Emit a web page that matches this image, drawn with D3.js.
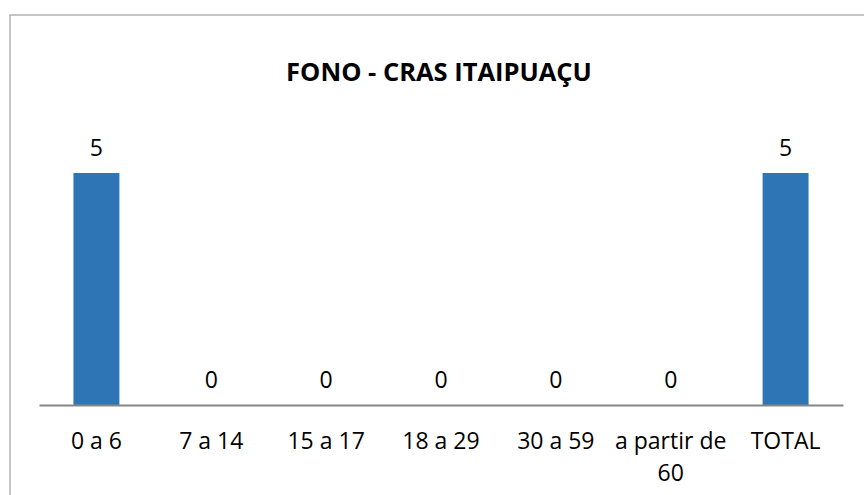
<!DOCTYPE html>
<html><head><meta charset="utf-8">
<script src="https://cdn.jsdelivr.net/npm/d3@7"></script>
<style>body{margin:0;background:#fff}svg{display:block}</style>
</head><body><svg id="c" width="864" height="495"></svg>
<script>
const categories = ["0 a 6","7 a 14","15 a 17","18 a 29","30 a 59","a partir de 60","TOTAL"];
const values = [5,0,0,0,0,0,5];
const title = "FONO - CRAS ITAIPUAÇU";

const svg = d3.select("#c");
const font = "'Open Sans', sans-serif";
svg.append("rect").attr("x",10).attr("y",15).attr("width",900).attr("height",500)
  .attr("fill","#fff").attr("stroke","#b3b3b3").attr("stroke-width",1.5);

svg.append("text").attr("x",439).attr("y",81).attr("text-anchor","middle")
  .attr("font-family",font).attr("font-weight","bold").attr("font-size",25.5)
  .attr("fill","#000").text(title);

const x = d3.scaleBand().domain(categories).range([39,843]).paddingInner(0.6).paddingOuter(0.3);
const y = d3.scaleLinear().domain([0,5]).range([405,173]);

svg.selectAll(".bar").data(values).join("rect").attr("class","bar")
  .attr("x",(d,i)=>x(categories[i])).attr("width",x.bandwidth())
  .attr("y",d=>y(d)).attr("height",d=>y(0)-y(d)).attr("fill","#2e75b6");

svg.selectAll(".lbl").data(values).join("text").attr("class","lbl")
  .attr("x",(d,i)=>x(categories[i])+x.bandwidth()/2).attr("y",d=>y(d)-17)
  .attr("text-anchor","middle").attr("font-family",font).attr("font-size",23).attr("fill","#000")
  .text(d=>d);

const axis = d3.axisBottom(x).tickSize(0).tickPadding(0).tickFormat("");
const g = svg.append("g").attr("transform","translate(0,405)").call(axis);
g.select(".domain").attr("stroke","#868686").attr("stroke-width",2);

categories.forEach(c=>{
  const lines = c==="a partir de 60" ? ["a partir de","60"] : [c];
  const t = svg.append("text").attr("text-anchor","middle").attr("font-family",font)
    .attr("font-size",23).attr("fill","#000");
  lines.forEach((l,i)=>t.append("tspan").attr("x",x(c)+x.bandwidth()/2).attr("y",449+i*32).text(l));
});
</script></body></html>
